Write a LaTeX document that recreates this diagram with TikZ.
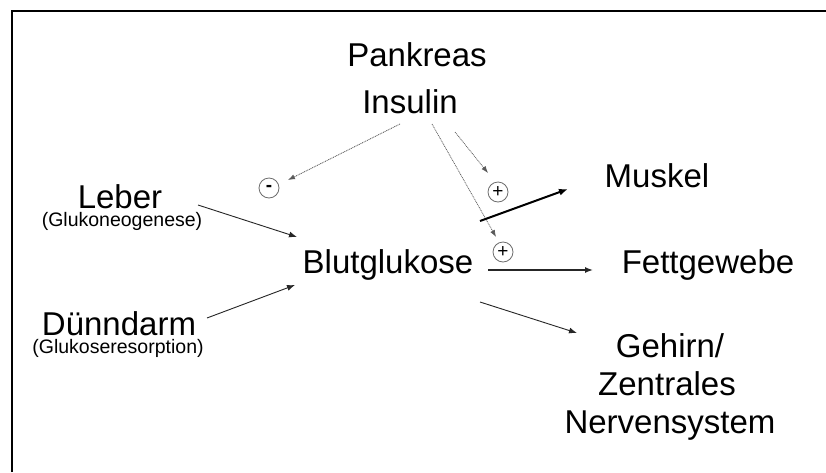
\documentclass[tikz,border=0pt]{standalone}
\usepackage{fontspec}
\setmainfont{Liberation Sans}
\usetikzlibrary{arrows.meta}
\begin{document}
\begin{tikzpicture}[x=1pt,y=-1pt,
  lbl/.style={anchor=base,font=\fontsize{33}{38}\selectfont,inner sep=0pt},
  sub/.style={anchor=base,font=\fontsize{19.5}{22}\selectfont,inner sep=0pt},
  sign/.style={circle,draw=gray!85!black,line width=0.8pt,minimum size=20pt,inner sep=0pt,font=\fontsize{19}{19}\selectfont},
  arr/.style={-{Latex[length=8pt,width=6pt]},line width=0.9pt,black!85},
  dotarr/.style={-{Latex[length=7pt,width=5pt]},line width=0.7pt,gray!70!black,dash pattern=on 1pt off 0.8pt},
]
\useasboundingbox (0,0) rectangle (826,472);
\fill[white] (0,0) rectangle (826,472);
\draw[line width=1.5pt] (12,472) -- (12,11) -- (826,11);

% texts
\node[lbl] (pank) at (417,66) {Pankreas};
\node[lbl] (ins) at (410,113) {Insulin};
\node[lbl] (leber) at (120,208) {Leber};
\node[sub] (glukneo) at (122,226) {(Glukoneogenese)};
\node[lbl] (duenn) at (119,335) {Dünndarm};
\node[sub] (glukres) at (118,353) {(Glukoseresorption)};
\node[lbl] (blut) at (388,273) {Blutglukose};
\node[lbl] (musk) at (657,187) {Muskel};
\node[lbl] (fett) at (708,273) {Fettgewebe};
\node[lbl] (gehirn) at (670,357) {Gehirn/};
\node[lbl] (zentr) at (667,395) {Zentrales};
\node[lbl] (nerv) at (670,433) {Nervensystem};

% signs
\node[sign] (minus) at (269,188) {\textbf{-}};
\node[sign] (plusA) at (498,192) {+};
\node[sign] (plusB) at (503,252) {+};

% connector end points
\coordinate (insL) at (400,124);
\coordinate (minusT) at (288,180);
\coordinate (insR) at (455,132);
\coordinate (plusAT) at (488,173);
\coordinate (insM) at (432,124);
\coordinate (plusBT) at (496,237);
\coordinate (leberO) at (198,205);
\coordinate (blutL1) at (297,237);
\coordinate (duennO) at (207,318);
\coordinate (blutL2) at (295,285);
\coordinate (blutR1) at (480,221);
\coordinate (muskI) at (568,189);
\coordinate (blutR2) at (488,270);
\coordinate (fettI) at (593,270);
\coordinate (blutR3) at (480,302);
\coordinate (gehirnI) at (577,333);

% connectors
\draw[dotarr] (insL) -- (minusT);
\draw[dotarr] (insR) -- (plusAT);
\draw[dotarr] (insM) -- (plusBT);
\draw[arr] (leberO) -- (blutL1);
\draw[arr] (duennO) -- (blutL2);
\draw[arr,line width=2pt,black,-{Latex[length=9pt,width=7pt]}] (blutR1) -- (muskI);
\draw[arr,line width=1.4pt] (blutR2) -- (fettI);
\draw[arr] (blutR3) -- (gehirnI);
\end{tikzpicture}
\end{document}
